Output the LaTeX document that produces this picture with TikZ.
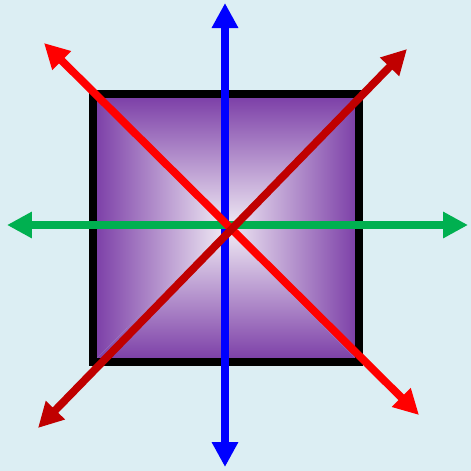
\documentclass[tikz,border=0pt]{standalone}
\usepackage{tikz}
\usetikzlibrary{arrows.meta}
\definecolor{bgcol}{HTML}{DCEEF3}
\definecolor{sqout}{HTML}{7A3CA6}
\definecolor{sqin}{HTML}{F1ECF5}
\definecolor{axblue}{HTML}{0000FF}
\definecolor{axgreen}{HTML}{00B050}
\definecolor{axred}{HTML}{FF0000}
\definecolor{axdark}{HTML}{C00000}

\begin{document}
\begin{tikzpicture}[
  x=0.02cm, y=-0.02cm,
  axis/.style={{Triangle[length=0.5cm, width=0.5cm]}-{Triangle[length=0.5cm, width=0.5cm]},
               line width=0.155cm},
  frame/.style={draw=black, line width=0.16cm},
]
\fill[bgcol] (0,0) rectangle (471,471);
\useasboundingbox (0,0) rectangle (471,471);

%% square corners and centre
\coordinate (c)  at (226,228);
\coordinate (nw) at (93,94);
\coordinate (ne) at (359,94);
\coordinate (se) at (359,362);
\coordinate (sw) at (93,362);

%% shaded square (one ramp per side)
\shade[top color=sqout, bottom color=sqin]    (nw) -- (ne) -- (c) -- cycle;
\shade[bottom color=sqout, top color=sqin]    (sw) -- (se) -- (c) -- cycle;
\shade[left color=sqout, right color=sqin]    (nw) -- (sw) -- (c) -- cycle;
\shade[right color=sqout, left color=sqin]    (ne) -- (se) -- (c) -- cycle;
\draw[frame] (nw) rectangle (se);

%% arrow ends
\coordinate (up)    at (225,3);
\coordinate (down)  at (225,467);
\coordinate (west)  at (7,225);
\coordinate (east)  at (468,225);
\coordinate (ul)    at (44,43);
\coordinate (lr)    at (419,415);
\coordinate (ur)    at (407,49);
\coordinate (ll)    at (38,428);

\draw[axis, axblue]  (up)   -- (down);
\draw[axis, axgreen] (west) -- (east);
\draw[axis, axred]   (ul)   -- (lr);
\draw[axis, axdark]  (ur)   -- (ll);

\end{tikzpicture}
\end{document}
